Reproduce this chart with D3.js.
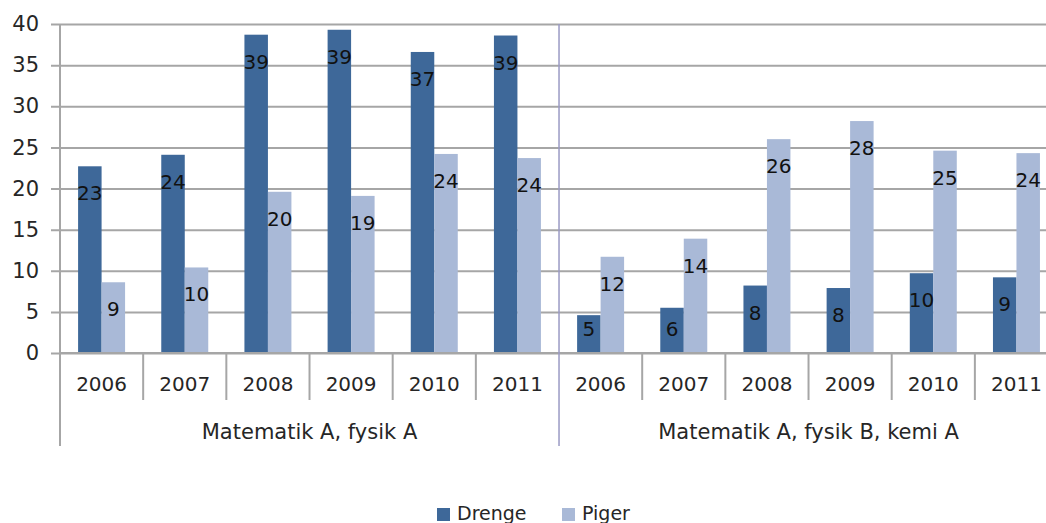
<!DOCTYPE html>
<html>
<head>
<meta charset="utf-8">
<script src="https://cdn.jsdelivr.net/npm/d3@7"></script>
<style>
  body { margin: 0; background: #fff; }
  svg { display: block; font-family: 'DejaVu Sans', sans-serif; }
</style>
</head>
<body>
<div id="chart"></div>
<script>
// data
const years = ['2006', '2007', '2008', '2009', '2010', '2011']
const groups = ['Matematik A, fysik A', 'Matematik A, fysik B, kemi A']
const series = ['Drenge', 'Piger']
const drenge = [22.7, 24.1, 38.7, 39.3, 36.6, 38.6, 4.6, 5.5, 8.2, 7.9, 9.7, 9.2]
const piger = [8.6, 10.4, 19.6, 19.1, 24.2, 23.7, 11.7, 13.9, 26.0, 28.2, 24.6, 24.3]
const yTicks = [0, 5, 10, 15, 20, 25, 30, 35, 40]

const colors = { Drenge: '#3e6899', Piger: '#a9b9d7' }

const width = 1046
const height = 523
const left = 60
const catW = 83.17
const keys = groups.flatMap((g, gi) => years.map((y) => gi + '-' + y))

const x = d3.scaleBand()
    .domain(keys)
    .range([left, left + keys.length * catW])
const xs = d3.scaleBand()
    .domain(series)
    .range([0, catW])
    .paddingOuter(0.77)
const y = d3.scaleLinear()
    .domain([0, 40])
    .range([353, 24])

const rows = keys.map((k, i) => ({ key: k, Drenge: drenge[i], Piger: piger[i] }))

const svg = d3.select('#chart').append('svg')
    .attr('width', width)
    .attr('height', height)

//grid + y axis
const yAxis = d3.axisLeft(y)
    .tickValues(yTicks)
    .tickSize(-(width - left + 9))
    .tickPadding(21)
const ga = svg.append('g')
    .attr('transform', `translate(${left},0)`)
    .call(yAxis)
ga.select('.domain').remove()
ga.selectAll('.tick line')
    .attr('x1', -9)
    .attr('x2', width - left)
    .attr('stroke', '#a6a6a6')
    .attr('stroke-width', 2)
ga.selectAll('.tick text')
    .attr('font-size', 21)
    .attr('fill', '#262626')
    .attr('font-family', "'DejaVu Sans', sans-serif")

//bars
const cat = svg.append('g').selectAll('g')
    .data(rows)
    .join('g')
    .attr('transform', (d) => `translate(${x(d.key)},0)`)

cat.selectAll('rect')
    .data((d) => series.map((s) => ({ s, v: d[s] })))
    .join('rect')
    .attr('x', (d) => xs(d.s))
    .attr('width', xs.bandwidth())
    .attr('y', (d) => y(d.v))
    .attr('height', (d) => y(0) - y(d.v))
    .attr('fill', (d) => colors[d.s])

cat.selectAll('text')
    .data((d) => series.map((s) => ({ s, v: d[s] })))
    .join('text')
    .attr('x', (d) => xs(d.s) + xs.bandwidth() / 2)
    .attr('y', (d) => Math.min(y(d.v) + 27, y(0) - 24))
    .attr('dy', '0.35em')
    .attr('text-anchor', 'middle')
    .attr('font-size', 20)
    .attr('fill', '#111')
    .text((d) => Math.round(d.v))

//category axis
const ax = svg.append('g')
ax.append('line')
    .attr('x1', left).attr('x2', width)
    .attr('y1', y(0)).attr('y2', y(0))
    .attr('stroke', '#a6a6a6').attr('stroke-width', 2)
keys.forEach((k, i) => {
    if (i === 0) return
    const xx = x(k)
    const major = i % years.length === 0
    ax.append('line')
        .attr('x1', xx).attr('x2', xx)
        .attr('y1', major ? 24 : y(0)).attr('y2', major ? 446 : 400)
        .attr('stroke', major ? '#9a9ac4' : '#a6a6a6')
        .attr('stroke-width', major ? 1.5 : 2)
})
ax.append('line')
    .attr('x1', left).attr('x2', left)
    .attr('y1', 24).attr('y2', 446)
    .attr('stroke', '#a6a6a6').attr('stroke-width', 2)

ax.selectAll('text.year')
    .data(keys)
    .join('text')
    .attr('class', 'year')
    .attr('x', (d) => x(d) + catW / 2)
    .attr('y', 384)
    .attr('dy', '0.35em')
    .attr('text-anchor', 'middle')
    .attr('font-size', 20)
    .attr('fill', '#262626')
    .text((d) => d.split('-')[1])

ax.selectAll('text.group')
    .data(groups)
    .join('text')
    .attr('class', 'group')
    .attr('x', (d, i) => left + (i * 6 + 3) * catW)
    .attr('y', 432)
    .attr('dy', '0.35em')
    .attr('text-anchor', 'middle')
    .attr('font-size', 21)
    .attr('fill', '#262626')
    .text((d) => d)

//legend
const legendX = [437, 562]
const lg = svg.append('g').selectAll('g')
    .data(series)
    .join('g')
    .attr('transform', (d, i) => `translate(${legendX[i]},513)`)
lg.append('rect')
    .attr('x', 0).attr('y', -5)
    .attr('width', 13).attr('height', 13)
    .attr('fill', (d) => colors[d])
lg.append('text')
    .attr('x', 20)
    .attr('dy', '0.35em')
    .attr('font-size', 19)
    .attr('fill', '#262626')
    .text((d) => d)
</script>
</body>
</html>
